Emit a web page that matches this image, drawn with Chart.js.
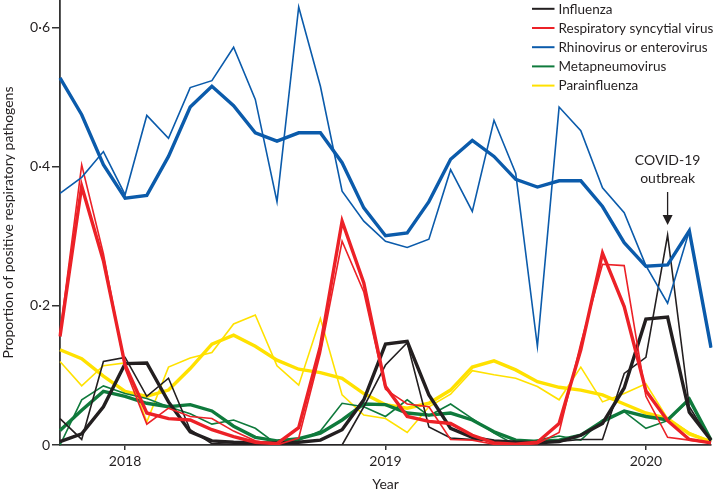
<!DOCTYPE html>
<html>
<head>
<meta charset="utf-8">
<script src="https://cdn.jsdelivr.net/npm/chart.js@4.4.1/dist/chart.umd.min.js"></script>
<style>
  html, body { margin: 0; padding: 0; background: #ffffff; }
  #wrap { width: 714px; height: 491px; position: relative; }
</style>
</head>
<body>
<div id="wrap"><canvas id="c" width="714" height="491"></canvas></div>
<script>
// ---- categories (monthly, Oct 2017 – Apr 2020) ----
const months = ['2017-10','2017-11','2017-12',
  '2018-01','2018-02','2018-03','2018-04','2018-05','2018-06','2018-07','2018-08','2018-09','2018-10','2018-11','2018-12',
  '2019-01','2019-02','2019-03','2019-04','2019-05','2019-06','2019-07','2019-08','2019-09','2019-10','2019-11','2019-12',
  '2020-01','2020-02','2020-03','2020-04'];

// ---- series (thin = observed, thick = second line) ----
const fluThin    = [0.038,0.008,0.120,0.126,0.070,0.096,0.022,0.002,0.001,0.001,0.000,0.000,0.000,0.000,0.055,0.115,0.147,0.026,0.010,0.008,0.006,0.005,0.005,0.005,0.008,0.008,0.103,0.126,0.302,0.055,0.005];
const fluThick   = [0.005,0.016,0.055,0.117,0.118,0.062,0.019,0.006,0.004,0.003,0.003,0.004,0.007,0.022,0.065,0.145,0.149,0.072,0.024,0.011,0.006,0.004,0.003,0.005,0.014,0.031,0.082,0.181,0.184,0.047,0.007];
const rsvThin    = [0.160,0.403,0.275,0.110,0.030,0.053,0.041,0.038,0.020,0.006,0.000,0.010,0.132,0.293,0.220,0.080,0.059,0.055,0.008,0.007,0.001,0.000,0.002,0.018,0.146,0.260,0.258,0.070,0.011,0.007,0.003];
const rsvThick   = [0.156,0.372,0.265,0.115,0.046,0.038,0.036,0.022,0.012,0.004,0.002,0.025,0.142,0.322,0.233,0.084,0.041,0.034,0.031,0.014,0.003,0.001,0.004,0.031,0.137,0.276,0.199,0.078,0.035,0.008,0.003];
const rhinoThin  = [0.362,0.385,0.422,0.360,0.474,0.441,0.514,0.524,0.572,0.497,0.350,0.630,0.516,0.365,0.322,0.293,0.284,0.296,0.396,0.336,0.467,0.391,0.142,0.486,0.452,0.370,0.334,0.258,0.204,0.308,0.140];
const rhinoThick = [0.528,0.475,0.403,0.355,0.359,0.415,0.486,0.516,0.488,0.449,0.437,0.449,0.449,0.406,0.341,0.301,0.305,0.350,0.411,0.438,0.415,0.382,0.371,0.380,0.380,0.343,0.291,0.257,0.259,0.308,0.140];
const metaThin   = [0.000,0.065,0.085,0.074,0.067,0.055,0.045,0.030,0.036,0.024,0.001,0.007,0.020,0.060,0.055,0.041,0.065,0.042,0.059,0.038,0.017,0.000,0.007,0.013,0.007,0.036,0.048,0.024,0.035,0.065,0.007];
const metaThick  = [0.021,0.050,0.077,0.070,0.060,0.055,0.058,0.049,0.027,0.011,0.006,0.009,0.017,0.036,0.059,0.058,0.046,0.043,0.046,0.036,0.019,0.007,0.005,0.007,0.014,0.034,0.049,0.041,0.036,0.066,0.007];
const paraThin   = [0.120,0.085,0.114,0.118,0.033,0.112,0.125,0.133,0.174,0.187,0.114,0.086,0.182,0.072,0.043,0.038,0.018,0.055,0.073,0.107,0.101,0.096,0.084,0.065,0.112,0.062,0.074,0.088,0.038,0.018,0.005];
const paraThick  = [0.137,0.124,0.099,0.077,0.070,0.079,0.110,0.145,0.158,0.142,0.122,0.109,0.104,0.096,0.074,0.058,0.053,0.060,0.079,0.112,0.121,0.108,0.091,0.083,0.079,0.072,0.059,0.046,0.038,0.016,0.005];

// ---- labels ----
const seriesNames = ['Influenza','Respiratory syncytial virus','Rhinovirus or enterovirus','Metapneumovirus','Parainfluenza'];
const yTicks = [0, 0.2, 0.4, 0.6];
const yTitle = 'Proportion of positive respiratory pathogens';
const xTitle = 'Year';
const annotationLines = ['COVID-19','outbreak'];
const annotationMonth = '2020-02';

const COL = {
  flu: '#231f20', rsv: '#ec2127', rhino: '#0b5bab', meta: '#0f7a3c', para: '#ffe100'
};
const FONT = 'Lato, "Liberation Sans", Arial, sans-serif';
const TXT = '#231f20';

function ds(label, data, color, thick, legend) {
  return {
    label, data, borderColor: color, backgroundColor: color,
    borderWidth: thick ? 3.4 : 1.6, pointRadius: 0, tension: 0,
    borderJoinStyle: 'miter', fill: false, showInLegend: legend
  };
}

const datasets = [
  ds(seriesNames[2], rhinoThin, COL.rhino, false, true),
  ds(seriesNames[2], rhinoThick, COL.rhino, true, false),
  ds(seriesNames[1], rsvThin, COL.rsv, false, true),
  ds(seriesNames[1], rsvThick, COL.rsv, true, false),
  ds(seriesNames[0], fluThin, COL.flu, false, true),
  ds(seriesNames[0], fluThick, COL.flu, true, false),
  ds(seriesNames[3], metaThin, COL.meta, false, true),
  ds(seriesNames[3], metaThick, COL.meta, true, false),
  ds(seriesNames[4], paraThin, COL.para, false, true),
  ds(seriesNames[4], paraThick, COL.para, true, false)
];

const legendPlugin = {
  id: 'floatLegend',
  afterDraw(chart) {
    const ctx = chart.ctx;
    const items = seriesNames.map(n => chart.data.datasets.find(d => d.label === n && d.showInLegend));
    ctx.save();
    ctx.font = '13.5px ' + FONT;
    ctx.textBaseline = 'middle';
    ctx.textAlign = 'left';
    items.forEach((d, i) => {
      const y = 8.8 + i * 19.2;
      ctx.strokeStyle = d.borderColor;
      ctx.lineWidth = 2;
      ctx.beginPath(); ctx.moveTo(532, y); ctx.lineTo(554.5, y); ctx.stroke();
      ctx.fillStyle = TXT;
      ctx.fillText(d.label, 558.5, y + 0.5);
    });
    ctx.restore();
  }
};

const annotationPlugin = {
  id: 'covidNote',
  afterDraw(chart) {
    const ctx = chart.ctx;
    const xs = chart.scales.x, ys = chart.scales.y;
    const x = xs.getPixelForValue(months.indexOf(annotationMonth));
    const peak = ys.getPixelForValue(fluThin[months.indexOf(annotationMonth)]);
    ctx.save();
    ctx.font = '14px ' + FONT;
    ctx.fillStyle = TXT;
    ctx.textAlign = 'center';
    ctx.textBaseline = 'middle';
    ctx.fillText(annotationLines[0], x, peak - 75);
    ctx.fillText(annotationLines[1], x, peak - 57);
    ctx.strokeStyle = TXT;
    ctx.lineWidth = 1.3;
    ctx.beginPath(); ctx.moveTo(x, peak - 43); ctx.lineTo(x, peak - 18); ctx.stroke();
    ctx.beginPath();
    ctx.moveTo(x - 5, peak - 20); ctx.lineTo(x + 5, peak - 20); ctx.lineTo(x, peak - 10);
    ctx.closePath(); ctx.fill();
    ctx.restore();
  }
};

new Chart(document.getElementById('c'), {
  type: 'line',
  data: { labels: months, datasets },
  options: {
    responsive: false,
    animation: false,
    events: [],
    layout: { padding: { left: 0, right: 3, top: 0, bottom: 0 } },
    plugins: { legend: { display: false }, tooltip: { enabled: false } },
    scales: {
      x: {
        type: 'category',
        offset: false,
        grid: { display: true, drawOnChartArea: false, drawTicks: true, tickLength: 5, color: '#333', lineWidth: 1.5 },
        border: { display: true, color: '#333', width: 1.8 },
        ticks: {
          autoSkip: false, maxRotation: 0, padding: 3, color: TXT,
          font: { family: FONT, size: 14 },
          callback: function (v) {
            const l = this.getLabelForValue(v);
            return l.endsWith('-01') ? l.slice(0, 4) : null;
          }
        },
        title: { display: true, text: xTitle, color: TXT, font: { family: FONT, size: 14 }, padding: { top: 0, bottom: -2 } },
        afterFit(s) { s.height = 46; s.paddingLeft = 0; s.paddingRight = 0; }
      },
      y: {
        min: 0, max: 0.64,
        afterBuildTicks(s) { s.ticks = yTicks.map(v => ({ value: v })); },
        grid: { display: true, drawOnChartArea: false, drawTicks: true, tickLength: 8, color: '#333', lineWidth: 1.5 },
        border: { display: true, color: '#333', width: 1.8 },
        ticks: {
          padding: 2, color: TXT, font: { family: FONT, size: 14 },
          callback: v => v === 0 ? '0' : v.toFixed(1).replace('.', '\u00b7')
        },
        title: { display: true, text: yTitle, color: TXT, font: { family: FONT, size: 14 }, padding: 0 },
        afterFit(s) { s.width = 60; s.paddingTop = 0; s.paddingBottom = 0; }
      }
    }
  },
  plugins: [legendPlugin, annotationPlugin]
});
</script>
</body>
</html>
